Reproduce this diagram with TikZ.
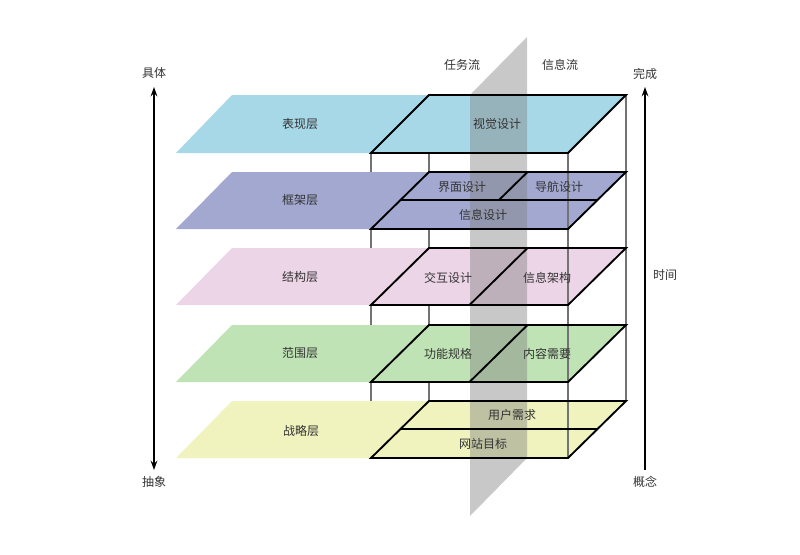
\documentclass[tikz,border=0pt]{standalone}
\usepackage{fontspec}
\setmainfont{Noto Sans CJK SC}
\usetikzlibrary{arrows.meta}

\definecolor{surfacecol}{RGB}{166,216,232}
\definecolor{skeletoncol}{RGB}{162,168,207}
\definecolor{structurecol}{RGB}{237,213,232}
\definecolor{scopecol}{RGB}{191,227,180}
\definecolor{strategycol}{RGB}{240,243,190}
\definecolor{flowcol}{RGB}{130,130,130}
\definecolor{labelcol}{RGB}{51,51,51}

\tikzset{every picture/.style={line width=0.75pt}}
\tikzset{
	band/.style={fill=#1, draw=none},
	slab/.style={draw=black, line width=1.4pt, line join=miter},
	boxedge/.style={draw=black!55, line width=1pt},
	flowplane/.style={fill=flowcol, fill opacity=0.44, draw=none},
	lbl/.style={font=\fontsize{9}{11}\selectfont, text=labelcol, inner sep=1pt},
	axisline/.style={draw=black, line width=1.2pt, -{Stealth[length=7pt,width=5pt]}},
}

\begin{document}
\begin{tikzpicture}[x=0.75pt,y=0.75pt,yscale=-1,xscale=1]
			\useasboundingbox (0,0) rectangle (800,554);
			%Straight Lines: back edges of the box
			\draw [boxedge] (429,95) -- (429,400) ;
			\draw [boxedge] (626,95) -- (626,400) ;
			\draw [boxedge] (371,153) -- (371,458) ;

			%Shape: Parallelogram (surface)
			\path [band=surfacecol] (176,153) -- (568,153) -- (626,95) -- (232,95) -- cycle ;
			%Shape: Parallelogram (skeleton)
			\path [band=skeletoncol] (176,229) -- (568,229) -- (626,172) -- (232,172) -- cycle ;
			%Shape: Parallelogram (structure)
			\path [band=structurecol] (176,305) -- (568,305) -- (626,248) -- (232,248) -- cycle ;
			%Shape: Parallelogram (scope)
			\path [band=scopecol] (176,382) -- (568,382) -- (626,325) -- (232,325) -- cycle ;
			%Shape: Parallelogram (strategy)
			\path [band=strategycol] (176,458) -- (568,458) -- (626,401) -- (232,401) -- cycle ;

			%Straight Lines: front edge of the box
			\draw [boxedge] (568,153) -- (568,458) ;

			%Shape: Parallelogram (flows)
			\path [flowplane] (470,516) -- (527,458) -- (527,37) -- (470,95) -- cycle ;

			%Shape: box slabs
			\draw [slab] (371,153) -- (568,153) -- (626,95) -- (429,95) -- cycle ;
			\draw [slab] (371,229) -- (568,229) -- (626,172) -- (429,172) -- cycle ;
			\draw [slab] (400,200) -- (597,200) ;
			\draw [slab] (527.5,172) -- (499,200) ;
			\draw [slab] (371,305) -- (568,305) -- (626,248) -- (429,248) -- cycle ;
			\draw [slab] (527.5,248) -- (469.5,305) ;
			\draw [slab] (371,382) -- (568,382) -- (626,325) -- (429,325) -- cycle ;
			\draw [slab] (527.5,325) -- (469.5,382) ;
			\draw [slab] (371,458) -- (568,458) -- (626,401) -- (429,401) -- cycle ;
			\draw [slab] (400,429) -- (597,429) ;

			% Text Node
			\node [lbl] (surface) at (300,124) {表现层};
			\node [lbl] (skeleton) at (300,200) {框架层};
			\node [lbl] (structure) at (300,277) {结构层};
			\node [lbl] (scope) at (300,353) {范围层};
			\node [lbl] (strategy) at (301,431) {战略层};
			% Text Node
			\node [lbl] (visual) at (497,124) {视觉设计};
			\node [lbl] (interface) at (462,187) {界面设计};
			\node [lbl] (navigation) at (559,187) {导航设计};
			\node [lbl] (infodesign) at (483,215) {信息设计};
			\node [lbl] (interaction) at (448,278) {交互设计};
			\node [lbl] (infoarch) at (547,278) {信息架构};
			\node [lbl] (functions) at (448,354) {功能规格};
			\node [lbl] (content) at (547,354) {内容需要};
			\node [lbl] (userneeds) at (512,415) {用户需求};
			\node [lbl] (siteobj) at (483,444) {网站目标};
			% Text Node
			\node [lbl] (taskflow) at (462,65) {任务流};
			\node [lbl] (infoflow) at (560,65) {信息流};
			\node [lbl] (concrete) at (154,73) {具体};
			\node [lbl] (abstract) at (154,482) {抽象};
			\node [lbl] (complete) at (645,74) {完成};
			\node [lbl] (concept) at (645,482) {概念};
			\node [lbl] (time) at (665,275) {时间};

			%Straight Lines: axes
			\coordinate (leftmid) at (154,280) ;
			\coordinate (lefttop) at (154,87) ;
			\coordinate (leftbot) at (154,470) ;
			\coordinate (righttop) at (645,87) ;
			\coordinate (rightbot) at (645,470) ;
			\draw [axisline] (leftmid) -- (lefttop) ;
			\draw [axisline] (leftmid) -- (leftbot) ;
			\draw [axisline] (rightbot) -- (righttop) ;

		\end{tikzpicture}
\end{document}
